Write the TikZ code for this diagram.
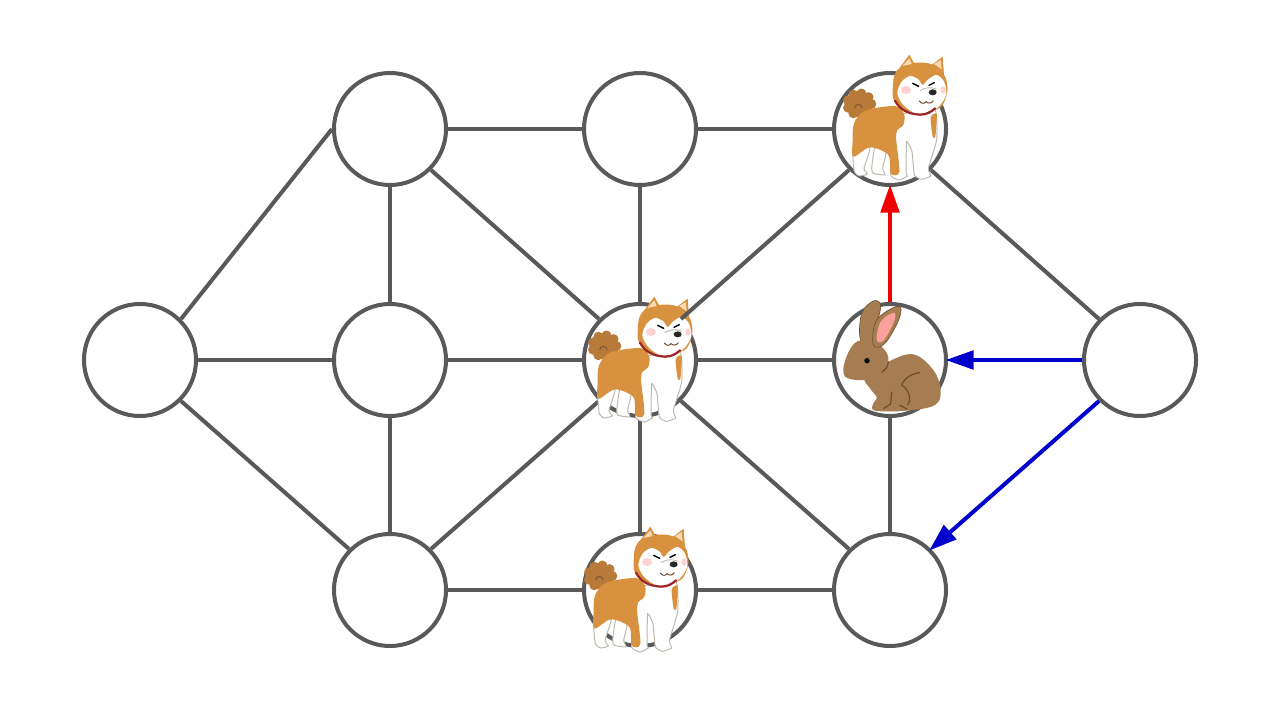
\documentclass[tikz,border=0pt]{standalone}
\usepackage{tikz}
\usetikzlibrary{arrows.meta}
\definecolor{linegray}{HTML}{595959}
\definecolor{dogfur}{HTML}{D8913F}
\definecolor{dogtail}{HTML}{B87A38}
\definecolor{dogedge}{HTML}{BDB8AE}
\definecolor{rabbitfur}{HTML}{A67C52}
\definecolor{rabbitline}{HTML}{6B4A2F}
\tikzset{
    %Define standard arrow tip
    >={Triangle[length=.7cm,width=.46cm]},
}
\tikzset{
    dog/.pic={
      \begin{scope}[scale=1/3, shift={(-225,-234)}, line width=.7pt]
        % tail
        \fill[dogtail] (118,192) ellipse (42 and 38);
        \foreach \a in {0,40,...,320} {
          \fill[dogtail] (118,192) +(\a:36 and 32) circle (15);
        }
        \draw[rabbitline!70!dogtail, line width=.8pt] (104,204) arc (180:360:11);
        % back legs
        \fill[white, draw=dogedge] plot[smooth cycle, tension=.3] coordinates {(100,335) (103,395) (118,408) (142,402) (132,385) (150,322)};
        \fill[white, draw=dogedge] plot[smooth cycle, tension=.3] coordinates {(165,322) (155,385) (160,400) (195,405) (188,385) (198,335)};
        % white chest and front legs
        \fill[white, draw=dogedge] plot[smooth cycle, tension=.25] coordinates {(240,225) (345,210) (350,300) (325,385) (332,408) (305,418) (283,405) (276,335) (260,305) (258,400) (262,408) (238,420) (212,405) (225,300)};
        \fill[dogfur] plot[smooth cycle, tension=.4] coordinates {(332,232) (350,222) (346,290) (338,290)};
        % orange body
        \fill[dogfur] plot[smooth cycle, tension=.5] coordinates {(102,250) (135,212) (225,198) (252,222) (250,255) (228,282) (238,395) (212,400) (205,345) (150,322) (100,350) (98,300)};
        % head
        \fill[dogfur] plot[smooth cycle, tension=.7] coordinates {(218,150) (232,90) (290,68) (350,80) (380,125) (375,180) (345,210) (270,215) (228,190)};
        \fill[dogfur] (238,85) -- (268,44) -- (285,75) -- cycle (335,75) -- (368,50) -- (372,105) -- cycle;
        \fill[orange!30!white] (247,78) -- (268,55) -- (275,72) -- cycle (342,72) -- (362,60) -- (365,88) -- cycle;
        \fill[white] plot[smooth cycle, tension=.5] coordinates {(232,160) (245,125) (270,108) (295,118) (308,135) (325,118) (350,105) (372,125) (378,165) (350,205) (290,220) (250,195)};
        \fill[red!18!white] (258,150) ellipse (15 and 12) (369,150) ellipse (8 and 11);
        % collar
        \draw[red!55!black!85, line width=1.6pt, line cap=round] (225,182) .. controls (240,210) and (265,222) .. (300,224) .. controls (320,224) and (335,215) .. (345,205);
        % face
        \draw[black, line width=1pt, line cap=round] (278,130) -- (296,139) (327,136) -- (343,128);
        \fill[black!85] (338,157) ellipse (12 and 9);
        \draw[dogedge, line width=.6pt] (300,152) .. controls (315,142) and (335,140) .. (350,148);
        \draw[rabbitline, line width=.7pt, line cap=round] (298,183) .. controls (305,192) and (312,192) .. (318,185) .. controls (325,192) and (335,190) .. (340,182);
      \end{scope}
    },
}

\begin{document}
\begin{tikzpicture}[
    x=.025cm, y=-.025cm,
    spot/.style = {draw=linegray, circle, line width=.1cm, fill=white,
                   minimum size=2.8cm, inner sep=0pt},
    link/.style = {draw=linegray, line width=.1cm},
    hop/.style = {line width=.1cm, ->, shorten >=-.06cm},
  ]
  \useasboundingbox (0,0) rectangle (1280,720);
  \node[spot] (left) at (140,360) {};
  \node[spot] (topa) at (390,129) {};
  \node[spot] (topb) at (640,129) {};
  \node[spot] (topc) at (890,129) {};
  \node[spot] (mida) at (390,360) {};
  \node[spot] (midb) at (640,360) {};
  \node[spot] (midc) at (890,360) {};
  \node[spot] (right) at (1140,360) {};
  \node[spot] (lowa) at (390,590) {};
  \node[spot] (lowb) at (640,590) {};
  \node[spot] (lowc) at (890,590) {};

  \draw[link] (left.north east) -- (topa.west);
  \draw[link] (left) -- (mida);
  \draw[link] (left.south east) -- (lowa.north west);
  \draw[link] (topa) -- (topb);
  \draw[link] (topb) -- (topc);
  \draw[link] (topa) -- (mida);
  \draw[link] (mida) -- (lowa);
  \draw[link] (topa.south east) -- (midb.north west);
  \draw[link] (topb) -- (midb);
  \draw[link] (mida) -- (midb);
  \draw[link] (midb) -- (midc);
  \draw[link] (lowa.north east) -- (midb.south west);
  \draw[link] (midb) -- (lowb);
  \draw[link] (midb.south east) -- (lowc.north west);
  \draw[link] (lowa) -- (lowb);
  \draw[link] (lowb) -- (lowc);
  \draw[link] (midc) -- (lowc);
  \draw[link] (topc.south east) -- (right.north west);

  \draw[hop, red!95!black] (midc) -- (topc);
  \draw[hop, blue!80!black] (right) -- (midc);
  \draw[hop, blue!80!black] (right.south west) -- (lowc.north east);

  \pic at (895,118) {dog};
  \pic at (640,360) {dog};
  \pic at (636,590) {dog};

  %this one runs over the dog
  \draw[link] (midb.north east) -- (topc.south west);

  % rabbit
  \begin{scope}[shift={(890,360)}, scale=1/3, shift={(-210,-210)}]
    \fill[rabbitfur, draw=rabbitline] plot[smooth cycle, tension=.6] coordinates {(122,150) (125,70) (160,33) (182,45) (172,100) (165,155)};
    \fill[rabbitfur] plot[smooth cycle, tension=.6] coordinates {(135,260) (205,215) (280,193) (340,240) (362,300) (345,345) (260,362) (165,362) (160,340) (170,322) (150,295)};
    \fill[rabbitfur] plot[smooth cycle, tension=.7] coordinates {(70,240) (95,170) (135,150) (185,170) (205,215) (170,262) (95,268)};
    \fill[rabbitfur, draw=rabbitline] plot[smooth cycle, tension=.6] coordinates {(160,165) (170,90) (235,48) (238,85) (195,160)};
    \fill[red!35!white!90!brown] plot[smooth cycle, tension=.6] coordinates {(170,150) (182,95) (222,68) (222,95) (192,150)};
    \fill[black] (141,212) circle (8);
    \draw[rabbitline, line width=.8pt] (245,285) .. controls (255,260) and (280,250) .. (300,248);
    \draw[rabbitline, line width=.8pt] (245,285) .. controls (270,300) and (275,335) .. (262,345);
    \draw[rabbitline, line width=.8pt] (215,305) -- (212,342) -- (190,356);
    \draw[rabbitline, line width=.8pt] (238,345) -- (262,358);
    \draw[rabbitline, line width=.8pt] (205,215) .. controls (205,230) and (195,240) .. (185,247);
  \end{scope}
\end{tikzpicture}
\end{document}
